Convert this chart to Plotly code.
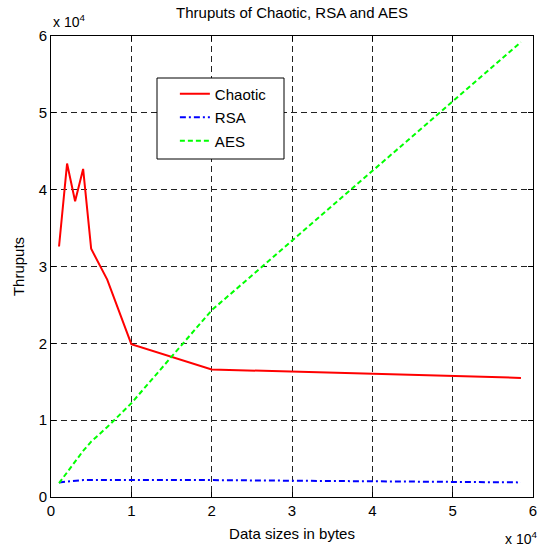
import plotly.graph_objects as go

data_sizes = [1000, 2000, 3000, 4000, 5000, 7000, 10000, 20000, 58500]
chaotic = [32600, 43400, 38500, 42700, 32300, 28300, 19900, 16600, 15500]
rsa = [1900, 2000, 2100, 2200, 2200, 2200, 2200, 2200, 1900]
aes = [1800, 3200, 4600, 6000, 7200, 9100, 12200, 24300, 59200]

tick_vals = [0, 10000, 20000, 30000, 40000, 50000, 60000]
tick_text = ["0", "1", "2", "3", "4", "5", "6"]

font_family = "Liberation Sans, Arial, sans-serif"

fig = go.Figure()
fig.add_trace(go.Scatter(x=data_sizes, y=chaotic, mode="lines", name="Chaotic", legendgroup="a",
                         line=dict(color="#ff0000", width=2)))
fig.add_trace(go.Scatter(x=data_sizes, y=rsa, mode="lines", name="RSA", legendgroup="b",
                         line=dict(color="#0000ff", width=2, dash="6px,3px,2px,3px")))
fig.add_trace(go.Scatter(x=data_sizes, y=aes, mode="lines", name="AES", legendgroup="c",
                         line=dict(color="#00ff00", width=2, dash="5px,3px")))

axis_common = dict(
    showline=True, linecolor="black", linewidth=1, mirror="ticks",
    ticks="inside", ticklen=5, tickcolor="black",
    showgrid=True, gridcolor="#222222", gridwidth=1, griddash="6px,4px",
    zeroline=False, tickvals=tick_vals, ticktext=tick_text, automargin=False,
    tickfont=dict(family=font_family, size=15, color="black"),
)

fig.update_layout(
    width=541, height=550,
    paper_bgcolor="white", plot_bgcolor="white",
    margin=dict(l=51, r=8, t=36, b=53, autoexpand=False),
    title=dict(text="Thruputs of Chaotic, RSA and AES", x=(51 + 533) / 2 / 541, xanchor="center",
               y=1 - 13 / 550, yanchor="middle",
               font=dict(family=font_family, size=15, color="black")),
    xaxis=dict(range=[0, 60000], title=dict(text="Data sizes in bytes", standoff=10,
               font=dict(family=font_family, size=15, color="black")), **axis_common),
    yaxis=dict(range=[0, 60000], title=dict(text="Thruputs", standoff=10,
               font=dict(family=font_family, size=15, color="black")), **axis_common),
    showlegend=True,
    legend=dict(x=0.257, y=0.91, xanchor="left", yanchor="top",
                bgcolor="rgba(0,0,0,0)", borderwidth=0,
                font=dict(family=font_family, size=15, color="black"),
                tracegroupgap=1),
    shapes=[dict(type="rect", xref="paper", yref="paper",
                 x0=(157 - 51) / 482, x1=(284 - 51) / 482,
                 y0=(497 - 159) / 461, y1=(497 - 78) / 461,
                 fillcolor="white", line=dict(color="black", width=1), layer="above")],
    annotations=[
        dict(text="x 10<sup>4</sup>", xref="paper", yref="paper", x=0, y=1.0,
             xanchor="left", yanchor="bottom", yshift=4, showarrow=False,
             font=dict(family=font_family, size=14, color="black")),
        dict(text="x 10<sup>4</sup>", xref="paper", yref="paper", x=1.0, y=0,
             xanchor="right", yanchor="top", yshift=-30, xshift=6, showarrow=False,
             font=dict(family=font_family, size=14, color="black")),
    ],
)

fig.write_html("out.html", config={"displayModeBar": False},
               post_script="document.body.style.margin='0';document.body.style.padding='0';")
